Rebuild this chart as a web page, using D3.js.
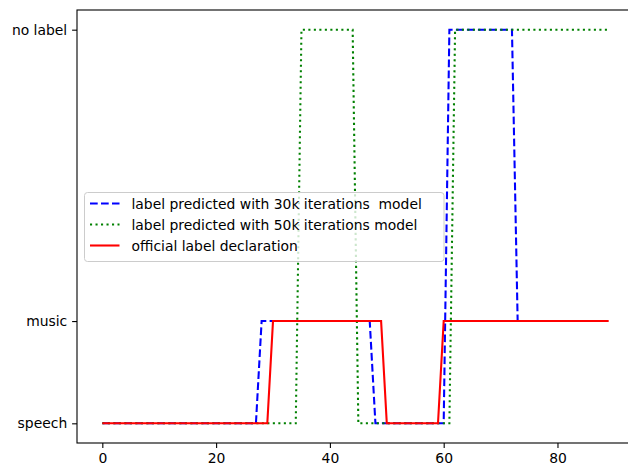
<!DOCTYPE html>
<html>
<head>
<meta charset="utf-8">
<script src="https://cdn.jsdelivr.net/npm/d3@7"></script>
<style>
  body { margin: 0; background: #fff; }
  text { font-family: "DejaVu Sans", sans-serif; font-size: 13.9px; fill: #000; }
</style>
</head>
<body>
<svg id="chart"></svg>
<script>
// category names and the numeric level each one was plotted at
var categories = ["speech", "music", "no label"]
var categoryLevels = [0, 1, 3.85]

// frame index 0..89
var frames = d3.range(0, 90)
var xTicks = [0, 20, 40, 60, 80]

// category index per frame
var pred30k = [
    0,0,0,0,0,0,0,0,0,0,
    0,0,0,0,0,0,0,0,0,0,
    0,0,0,0,0,0,0,0,1,1,
    1,1,1,1,1,1,1,1,1,1,
    1,1,1,1,1,1,1,1,0,0,
    0,0,0,0,0,0,0,0,0,0,
    0,2,2,2,2,2,2,2,2,2,
    2,2,2,1,1,1,1,1,1,1,
    1,1,1,1,1,1,1,1,1,1
]
var pred50k = [
    0,0,0,0,0,0,0,0,0,0,
    0,0,0,0,0,0,0,0,0,0,
    0,0,0,0,0,0,0,0,0,0,
    0,0,0,0,0,2,2,2,2,2,
    2,2,2,2,2,0,0,0,0,0,
    0,0,0,0,0,0,0,0,0,0,
    0,0,2,2,2,2,2,2,2,2,
    2,2,2,2,2,2,2,2,2,2,
    2,2,2,2,2,2,2,2,2,2
]
var official = [
    0,0,0,0,0,0,0,0,0,0,
    0,0,0,0,0,0,0,0,0,0,
    0,0,0,0,0,0,0,0,0,0,
    1,1,1,1,1,1,1,1,1,1,
    1,1,1,1,1,1,1,1,1,1,
    0,0,0,0,0,0,0,0,0,0,
    1,1,1,1,1,1,1,1,1,1,
    1,1,1,1,1,1,1,1,1,1,
    1,1,1,1,1,1,1,1,1,1
]

var seriesNames = [
    "label predicted with 30k iterations  model",
    "label predicted with 50k iterations model",
    "official label declaration"
]
var seriesColors = ["#0000ff", "#008000", "#ff0000"]
var seriesDash = ["7.7,3.3", "2.1,3.4", null]

var dimensions = {
    width: 628,
    height: 468,
    margin: { top: 10, bottom: 25, right: -6, left: 77 }
}

var svg = d3.select("#chart")
    .attr("width", dimensions.width)
    .attr("height", dimensions.height)

// matplotlib-like 5% margins around the data
var xMin = d3.min(frames), xMax = d3.max(frames)
var xPad = (xMax - xMin) * 0.05
var xScale = d3.scaleLinear()
    .domain([xMin - xPad, xMax + xPad])
    .range([dimensions.margin.left, dimensions.width - dimensions.margin.right])

var yMin = d3.min(categoryLevels), yMax = d3.max(categoryLevels)
var yPad = (yMax - yMin) * 0.05
var yScale = d3.scaleLinear()
    .domain([yMin - yPad, yMax + yPad])
    .range([dimensions.height - dimensions.margin.bottom, dimensions.margin.top])

var line = d3.line()
    .x((d, i) => xScale(frames[i]))
    .y(d => yScale(categoryLevels[d]))

var plot = svg.append("g")
var allSeries = [pred30k, pred50k, official]
allSeries.forEach(function(s, i){
    plot.append("path")
        .datum(s)
        .attr("fill", "none")
        .attr("stroke", seriesColors[i])
        .attr("stroke-width", 2.08)
        .attr("stroke-dasharray", seriesDash[i])
        .attr("d", line)
})

// axes
var xAxisgen = d3.axisBottom(xScale).tickValues(xTicks).tickSize(4.9).tickPadding(4.9)
var yAxisgen = d3.axisLeft(yScale).tickValues(categoryLevels)
    .tickFormat((d, i) => categories[i]).tickSize(4.9).tickPadding(4.9)

var xAxis = svg.append("g")
    .attr("transform", `translate(0,${dimensions.height - dimensions.margin.bottom})`)
    .call(xAxisgen)
var yAxis = svg.append("g")
    .attr("transform", `translate(${dimensions.margin.left},0)`)
    .call(yAxisgen)

svg.selectAll(".domain").remove()
svg.selectAll(".tick line").attr("stroke", "#000").attr("stroke-width", 1.1)
svg.selectAll(".tick text").style("font-family", "DejaVu Sans").style("font-size", "13.9px").attr("fill", "#000")

// frame
svg.append("rect")
    .attr("x", dimensions.margin.left)
    .attr("y", dimensions.margin.top)
    .attr("width", xScale.range()[1] - dimensions.margin.left)
    .attr("height", yScale.range()[0] - dimensions.margin.top)
    .attr("fill", "none")
    .attr("stroke", "#000")
    .attr("stroke-width", 1.1)

// legend
var legend = svg.append("g")
legend.append("rect")
    .attr("x", 84.5).attr("y", 192.5)
    .attr("width", 359.5).attr("height", 69)
    .attr("rx", 3)
    .attr("fill", "#fff").attr("fill-opacity", 0.8)
    .attr("stroke", "#cccccc").attr("stroke-width", 1)

var legendRows = [203.5, 224.5, 245.5]
seriesNames.forEach(function(name, i){
    legend.append("line")
        .attr("x1", 90).attr("x2", 119.5)
        .attr("y1", legendRows[i]).attr("y2", legendRows[i])
        .attr("stroke", seriesColors[i])
        .attr("stroke-width", 2.08)
        .attr("stroke-dasharray", seriesDash[i])
    legend.append("text")
        .attr("x", 131.5).attr("y", legendRows[i])
        .attr("dy", "0.36em")
        .style("white-space", "pre")
        .attr("xml:space", "preserve")
        .text(name)
})
</script>
</body>
</html>
